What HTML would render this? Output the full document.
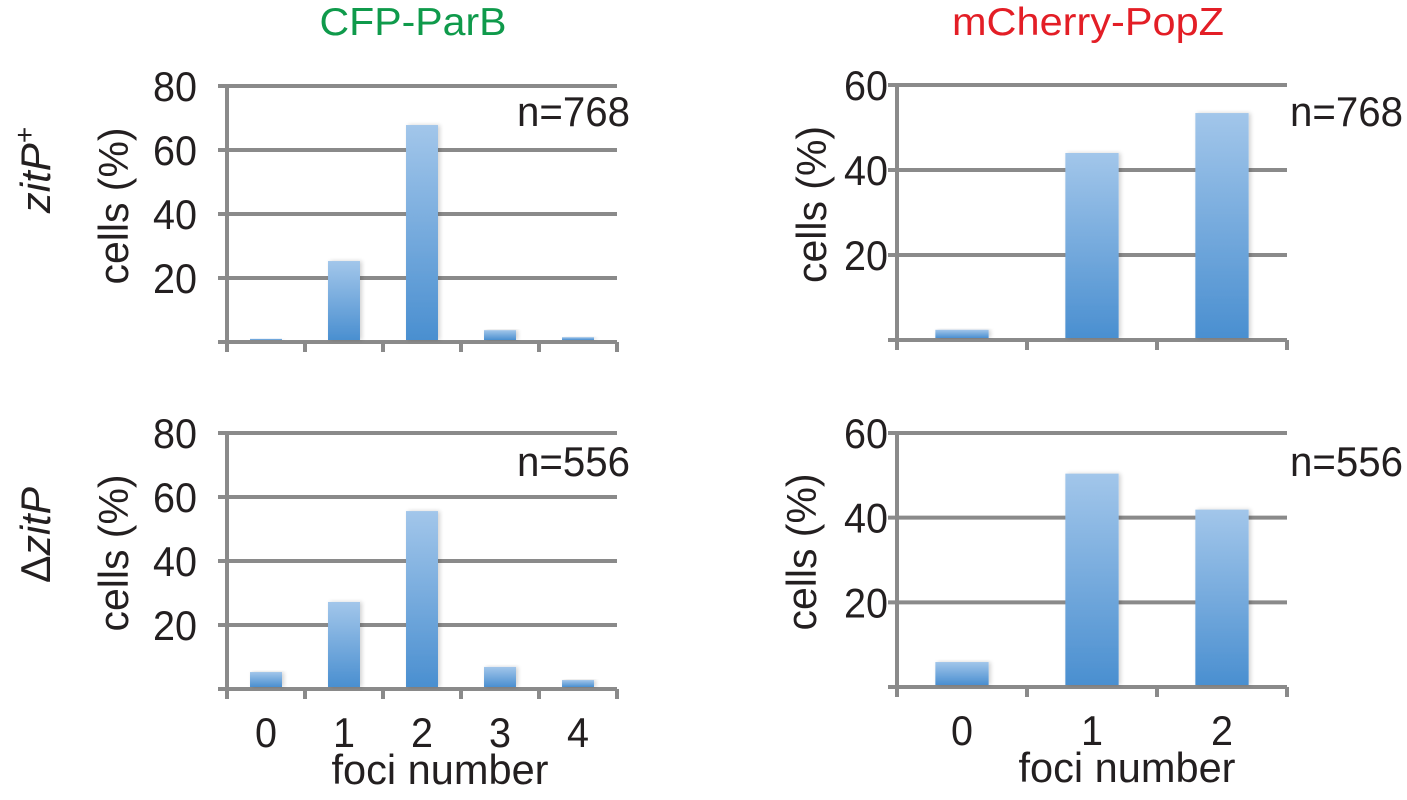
<!DOCTYPE html>
<html>
<head>
<meta charset="utf-8">
<style>
html,body{margin:0;padding:0;background:#fff;}
svg{display:block;}
text{font-family:"Liberation Sans",Arial,sans-serif;fill:#231f20;}
</style>
</head>
<body>
<svg id="fig" width="1407" height="800" viewBox="0 0 1407 800" xmlns="http://www.w3.org/2000/svg">
<defs>
<linearGradient id="barGrad" x1="0" y1="0" x2="0" y2="1">
<stop offset="0" stop-color="#a2c6ea"/>
<stop offset="1" stop-color="#4a8fd0"/>
</linearGradient>
<filter id="shadow" x="-30%" y="-10%" width="160%" height="120%">
<feGaussianBlur in="SourceAlpha" stdDeviation="2"/>
<feOffset dx="2" dy="0"/>
<feComponentTransfer><feFuncA type="linear" slope="0.18"/></feComponentTransfer>
<feMerge><feMergeNode/><feMergeNode in="SourceGraphic"/></feMerge>
</filter>
</defs>
<text x="413" y="35" text-anchor="middle" font-size="39" style="fill:#0f9a4b" textLength="187" lengthAdjust="spacingAndGlyphs">CFP-ParB</text>
<text x="1088" y="35" text-anchor="middle" font-size="39" style="fill:#e31e26" textLength="272" lengthAdjust="spacingAndGlyphs">mCherry-PopZ</text>
<text transform="translate(50,170) rotate(-90)" text-anchor="middle" font-size="42" font-style="italic">zitP<tspan dy="-16" font-size="28" font-style="normal">+</tspan></text>
<text transform="translate(50,535) rotate(-90)" text-anchor="middle" font-size="42" textLength="96" lengthAdjust="spacingAndGlyphs"><tspan>Δ</tspan><tspan font-style="italic">zitP</tspan></text>
<g id="charts"></g>
</svg>
<script>
// Panel data
const catsLeft = ["0","1","2","3","4"];
const catsRight = ["0","1","2"];
const ticksLeft = [20,40,60,80];
const ticksRight = [20,40,60];
const valsTopLeft = [1.0,25.3,67.8,3.7,1.5];
const valsBottomLeft = [5.3,27.2,55.6,6.9,2.8];
const valsTopRight = [2.4,44.0,53.4];
const valsBottomRight = [5.9,50.4,41.9];
const nTopLeft = "n=768";
const nBottomLeft = "n=556";
const nTopRight = "n=768";
const nBottomRight = "n=556";

const NS = "http://www.w3.org/2000/svg";
const root = document.getElementById('charts');
function mk(tag, attrs, parent){
  const e = document.createElementNS(NS, tag);
  for (const k in attrs) e.setAttribute(k, attrs[k]);
  (parent||root).appendChild(e);
  return e;
}

function panel(id, cfg, cats, vals, ticks, nLabel){
  const g = mk('g', {});
  
  
  const x0 = cfg.x0, x1 = cfg.x1, yTop = cfg.yTop, yBase = cfg.yBase, ymax = cfg.ymax;
  const yS = v => yBase - (v / ymax) * (yBase - yTop);
  const cw = (x1 - x0) / cats.length;
  const xS = i => x0 + cw * i;
  const grey = "#8a8a8a";
  const allTicks = [0].concat(ticks);
  allTicks.forEach(t => {
    const l = mk('line', {x1: x0 - 9, x2: x1, y1: yS(t), y2: yS(t), stroke: grey, 'stroke-width': 4}, g);
    
    
  });
  ticks.forEach(t => {
    const tx = mk('text', {x: x0 - 30 + cfg.lblShift, y: yS(t) + 15, 'text-anchor': 'end', 'font-size': 42, textLength: 44, lengthAdjust: 'spacingAndGlyphs'}, g);
    tx.textContent = String(t);
    
    
  });
  const ax = mk('line', {x1: x0, x2: x0, y1: yTop, y2: yBase + 10, stroke: grey, 'stroke-width': 4}, g);
  
  
  for (let i = 1; i <= cats.length; i++) {
    const tk = mk('line', {x1: xS(i), x2: xS(i), y1: yBase, y2: yBase + 10, stroke: grey, 'stroke-width': 4}, g);
    
    
  }
  const bw = cw * cfg.barFrac;
  vals.forEach((v, i) => {
    const cx = xS(i) + cw / 2;
    const r = mk('rect', {x: cx - bw / 2, y: yS(v), width: bw, height: yBase - yS(v) - 2, fill: 'url(#barGrad)', filter: 'url(#shadow)'}, g);
    
    
  });
  const yt = mk('text', {transform: 'translate(' + cfg.yTitleX + ',' + ((yTop + yBase) / 2 - 8) + ') rotate(-90)', 'text-anchor': 'middle', 'font-size': 42, textLength: 157, lengthAdjust: 'spacingAndGlyphs'}, g);
  yt.textContent = 'cells (%)';
  
  
  const nt = mk('text', {x: cfg.nX, y: cfg.nY, 'text-anchor': 'start', 'font-size': 42, textLength: 113, lengthAdjust: 'spacingAndGlyphs'}, g);
  nt.textContent = nLabel;
  
  
  if (cfg.xLabels) {
    cats.forEach((c, i) => {
      const t = mk('text', {x: xS(i) + cw / 2, y: yBase + 58, 'text-anchor': 'middle', 'font-size': 42, textLength: 22, lengthAdjust: 'spacingAndGlyphs'}, g);
      t.textContent = c;
      
      
    });
    const xt = mk('text', {x: (x0 + x1) / 2 + cfg.xtShift, y: yBase + 95, 'text-anchor': 'middle', 'font-size': 42, textLength: 217, lengthAdjust: 'spacingAndGlyphs'}, g);
    xt.textContent = 'foci number';
    
    
  }
}

panel('top-left', {x0: 227, x1: 617, yTop: 86, yBase: 342, ymax: 80, barFrac: 0.41, yTitleX: 128, nX: 517, nY: 126, lblShift: 0, xLabels: false, xtShift: 0}, catsLeft, valsTopLeft, ticksLeft, nTopLeft);
panel('bottom-left', {x0: 227, x1: 617, yTop: 433, yBase: 689, ymax: 80, barFrac: 0.41, yTitleX: 128, nX: 517, nY: 476, lblShift: 0, xLabels: true, xtShift: 18}, catsLeft, valsBottomLeft, ticksLeft, nBottomLeft);
panel('top-right', {x0: 897, x1: 1287, yTop: 85, yBase: 340, ymax: 60, barFrac: 0.41, yTitleX: 826, nX: 1290, nY: 126, lblShift: 21, xLabels: false, xtShift: 0}, catsRight, valsTopRight, ticksRight, nTopRight);
panel('bottom-right', {x0: 897, x1: 1287, yTop: 433, yBase: 687, ymax: 60, barFrac: 0.41, yTitleX: 816, nX: 1290, nY: 476, lblShift: 21, xLabels: true, xtShift: 35}, catsRight, valsBottomRight, ticksRight, nBottomRight);
</script>
</body>
</html>
